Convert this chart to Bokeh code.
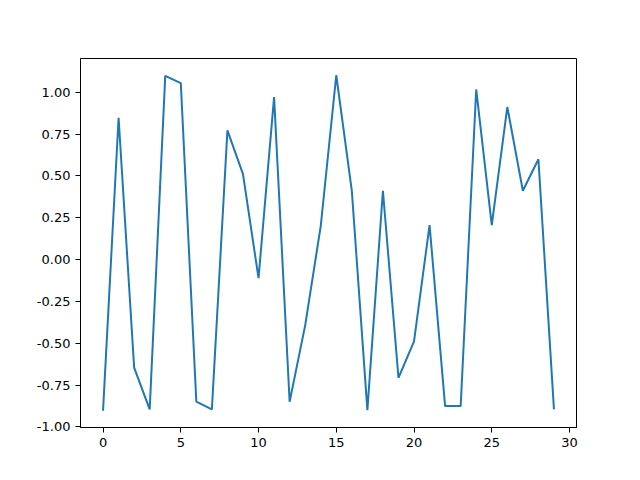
from bokeh.plotting import figure
from bokeh.models import FixedTicker, NumeralTickFormatter, Range1d
from bokeh.embed import file_html
from bokeh.resources import INLINE

x_vals = list(range(30))
y_vals = [-0.903, 0.847, -0.645, -0.895, 1.097, 1.054, -0.849, -0.895, 0.772, 0.510,
          -0.111, 0.970, -0.849, -0.393, 0.200, 1.101, 0.411, -0.899, 0.411, -0.706,
          -0.488, 0.206, -0.875, -0.875, 1.016, 0.206, 0.911, 0.411, 0.599, -0.895]
x_ticks = [0, 5, 10, 15, 20, 25, 30]
y_ticks = [-1.0, -0.75, -0.5, -0.25, 0.0, 0.25, 0.5, 0.75, 1.0]

p = figure(width=624, height=464, output_backend="svg", toolbar_location=None,
           x_range=Range1d(-1.45, 30.45), y_range=Range1d(-1.003, 1.201),
           min_border_left=80, min_border_right=48, min_border_top=58, min_border_bottom=37)
p.line(x_vals, y_vals, line_color="#1f77b4", line_width=2)

p.xgrid.visible = False
p.ygrid.visible = False
p.outline_line_color = "black"
p.outline_line_width = 1
p.xaxis.ticker = FixedTicker(ticks=x_ticks)
p.yaxis.ticker = FixedTicker(ticks=y_ticks)
p.yaxis.formatter = NumeralTickFormatter(format="0.00")
for ax in (p.xaxis[0], p.yaxis[0]):
    ax.minor_tick_line_color = None
    ax.major_tick_out = 5
    ax.major_tick_in = 0
    ax.major_tick_line_color = "black"
    ax.axis_line_color = "black"
    ax.major_label_text_font = "DejaVu Sans"
    ax.major_label_text_font_size = "13px"
    ax.major_label_text_color = "black"
    ax.major_label_standoff = 5

open("out.html", "w").write(file_html(p, INLINE))
